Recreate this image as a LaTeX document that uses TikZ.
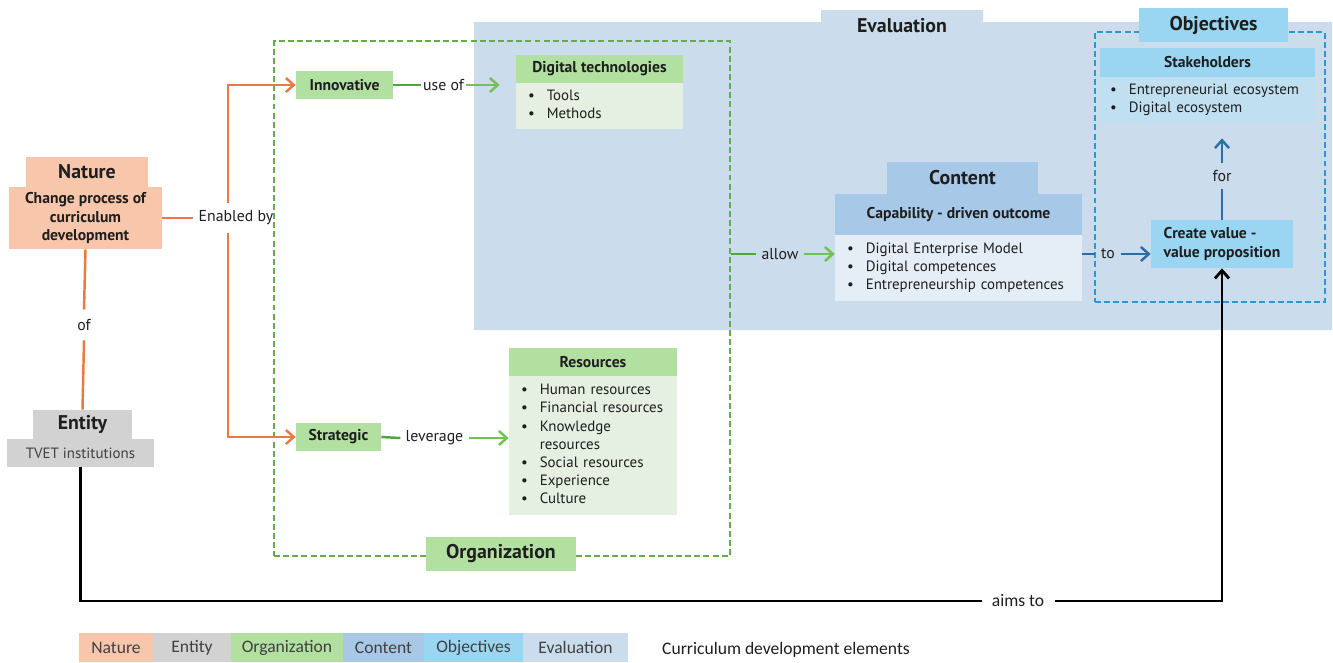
\documentclass[tikz,border=0pt]{standalone}
\usepackage{fontspec}
\setmainfont{PT Sans}
\newfontfamily\calib{Carlito}
\usetikzlibrary{arrows.meta}

\definecolor{natfill}{HTML}{F8C6AB}
\definecolor{entfill}{HTML}{D2D2D2}
\definecolor{orgfill}{HTML}{B2E0A0}
\definecolor{orgbody}{HTML}{E5EFE2}
\definecolor{confill}{HTML}{A8C8E8}
\definecolor{conbody}{HTML}{E5EDF6}
\definecolor{objfill}{HTML}{9AD6F2}
\definecolor{objbody}{HTML}{C0E0F2}
\definecolor{evalfill}{HTML}{CBDDED}
\definecolor{orangeln}{HTML}{E97B42}
\definecolor{greendk}{HTML}{4FA63A}
\definecolor{greenlt}{HTML}{72C154}
\definecolor{greendash}{HTML}{65AE45}
\definecolor{blueln}{HTML}{2D6DA3}
\definecolor{bluedash}{HTML}{2B97D3}
\definecolor{ink}{HTML}{1E1E1E}

\newcommand\ftitle{\fontsize{11.3}{13}\selectfont\bfseries}
\newcommand\fhead{\fontsize{8.9}{10.4}\selectfont\bfseries}
\newcommand\fbody{\fontsize{8.5}{10.3}\selectfont}
\newcommand\flab{\fontsize{9}{10.5}\selectfont}
\newcommand\fleg{\calib\fontsize{10}{12}\selectfont}
\newcommand\bulletlist[1]{\begin{tabular}{@{}l@{\hspace{0.24cm}}l@{}}#1\end{tabular}}

\begin{document}
\begin{tikzpicture}[x=0.02cm,y=-0.02cm,
  fillbox/.style={inner sep=0, align=center, text=ink},
  listbox/.style={inner xsep=0.24cm, inner ysep=0, align=left, text=ink, font=\fbody},
  lab/.style={inner xsep=0.1cm, inner ysep=0, text=ink, font=\flab},
  gdash/.style={draw=greendash, line width=0.9pt, dash pattern=on 3.4pt off 1.8pt, inner sep=0},
  bdash/.style={draw=bluedash, line width=0.9pt, dash pattern=on 3.4pt off 1.8pt, inner sep=0},
  tip/.style={-{Straight Barb[length=4.5pt,width=8pt]}},
  oline/.style={draw=orangeln, line width=1.4pt},
  gdk/.style={draw=greendk, line width=1.4pt},
  glt/.style={draw=greenlt, line width=1.4pt},
  bline/.style={draw=blueln, line width=1.4pt},
  kline/.style={draw=black, line width=1.6pt},
  legbox/.style={inner sep=0, minimum height=0.58cm, text=ink!85, font=\fleg}]
\useasboundingbox (0,0) rectangle (1333,663);

% Evaluation area with its tab
\fill[evalfill] (474,22) -- (821,22) -- (821,10) -- (983,10) -- (983,22)
  -- (1332,22) -- (1332,330) -- (474,330) -- cycle;
\node[fillbox, font=\ftitle] (eval) at (902,26) {Evaluation};

% dashed frames
\node[gdash, minimum width=9.12cm, minimum height=10.3cm] (orgframe) at (502,298.5) {};
\node[bdash, minimum width=4.6cm, minimum height=5.4cm] (objframe) at (1210,167) {};

% Nature
\node[fillbox, fill=natfill, minimum width=2.44cm, minimum height=0.6cm, font=\ftitle] (natt) at (87,172) {Nature};
\node[fillbox, fill=natfill, minimum width=3.06cm, minimum height=1.24cm, font=\fhead] (natb) at (85.5,218)
  {Change process of\\curriculum\\development};

% Entity
\node[fillbox, fill=entfill, minimum width=1.98cm, minimum height=0.58cm, font=\ftitle] (entt) at (82.5,424.5) {Entity};
\node[fillbox, fill=entfill, minimum width=2.94cm, minimum height=0.56cm, font=\fbody, text=ink!85] (entb) at (80.5,453) {TVET institutions};

% Organization
\node[fillbox, fill=orgfill, minimum width=1.94cm, minimum height=0.56cm, font=\fhead] (innov) at (344.5,85) {Innovative};
\node[fillbox, fill=orgfill, minimum width=1.7cm, minimum height=0.56cm, font=\fhead] (strat) at (338.5,437) {Strategic};
\node[fillbox, fill=orgfill, minimum width=3.34cm, minimum height=0.56cm, font=\fhead] (digh) at (599.5,69) {Digital technologies};
\node[listbox, fill=orgbody, text width=2.86cm, minimum height=0.92cm] (digb) at (599.5,106)
  {\bulletlist{\textbullet & Tools\\ \textbullet & Methods}};
\node[fillbox, fill=orgfill, minimum width=3.36cm, minimum height=0.56cm, font=\fhead] (resh) at (593,362) {Resources};
\node[listbox, fill=orgbody, text width=2.88cm, minimum height=2.78cm] (resb) at (593,445.5)
  {\bulletlist{\textbullet & Human resources\\ \textbullet & Financial resources\\
   \textbullet & Knowledge\\ & resources\\ \textbullet & Social resources\\
   \textbullet & Experience\\ \textbullet & Culture}};
\node[fillbox, fill=orgfill, minimum width=3.0cm, minimum height=0.68cm, font=\ftitle] (orglab) at (501,554) {Organization};

% Content
\node[fillbox, fill=confill, minimum width=3.02cm, minimum height=0.64cm, font=\ftitle] (cont) at (962.5,178) {Content};
\node[fillbox, fill=confill, minimum width=4.94cm, minimum height=0.82cm, font=\fhead] (conh) at (958.5,214.5) {Capability - driven outcome};
\node[listbox, fill=conbody, text width=4.46cm, minimum height=1.32cm] (conb) at (958.5,268)
  {\bulletlist{\textbullet & Digital Enterprise Model\\ \textbullet & Digital competences\\
   \textbullet & Entrepreneurship competences}};

% Objectives
\node[fillbox, fill=objfill, minimum width=2.98cm, minimum height=0.68cm, font=\ftitle] (objt) at (1213.5,25) {Objectives};
\node[fillbox, fill=objfill, minimum width=4.3cm, minimum height=0.58cm, font=\fhead] (stkh) at (1207.5,62.5) {Stakeholders};
\node[listbox, inner xsep=0.2cm, fill=objbody, text width=3.9cm, minimum height=0.92cm] (stkb) at (1207.5,100)
  {\bulletlist{\textbullet & Entrepreneurial ecosystem\\ \textbullet & Digital ecosystem}};
\node[fillbox, fill=objfill, minimum width=2.84cm, minimum height=0.96cm, font=\fhead, align=left] (create) at (1222,244)
  {Create value -\\value proposition};

% connector labels
\node[lab, minimum height=0.58cm] (enab) at (236,218) {Enabled by};
\node[lab, minimum height=0.6cm] (of) at (84,325) {of};
\node[lab, inner xsep=0.03cm] (useof) at (443.5,85) {use of};
\node[lab] (lev) at (434.5,438) {leverage};
\node[lab] (allow) at (780,254) {allow};
\node[lab, inner xsep=0.12cm] (to) at (1108,254) {to};
\node[lab, minimum height=0.52cm] (for) at (1222,176) {for};
\node[lab, font=\fleg, inner xsep=0.2cm] (aims) at (1018,601) {aims to};
\coordinate (jn) at (228,218);

% connectors
\draw[oline] (natb.east) -- (enab.west);
\draw[oline, tip] (enab.north -| jn) |- (innov.west);
\draw[oline, tip] (enab.south -| jn) |- (strat.west);
\draw[oline] (natb.south) -- (of.north);
\draw[oline] (of.south) -- (entt.north);
\draw[gdk] (innov.east) -- (useof.west);
\draw[glt, tip, shorten >=0.32cm] (useof.east) -- (useof.east -| digb.west);
\draw[gdk] (strat.east) -- (lev.west);
\draw[glt, tip] (lev.east) -- (lev.east -| resb.west);
\draw[gdk] (allow.west -| orgframe.east) -- (allow.west);
\draw[glt, tip] (allow.east) -- (allow.east -| conb.west);
\draw[bline] (to.west -| conb.east) -- (to.west);
\draw[bline, tip] (to.east) -- (to.east -| create.west);
\draw[bline] (create.north) -- (for.south);
\draw[bline, tip, shorten >=0.3cm] (for.north) -- (for.north |- stkb.south);
\draw[kline] (entb.south) |- (aims.west);
\draw[kline, tip] (aims.east) -| (create.south);

% legend
\node[legbox, fill=natfill, minimum width=1.48cm] (lnat) at (116,647.5) {Nature};
\node[legbox, fill=entfill, minimum width=1.56cm] (lent) at (192,647.5) {Entity};
\node[legbox, fill=orgfill, minimum width=2.24cm] (lorg) at (287,647.5) {Organization};
\node[legbox, fill=confill, minimum width=1.62cm] (lcon) at (383.5,647.5) {Content};
\node[legbox, fill=objfill, minimum width=1.98cm] (lobj) at (473.5,647.5) {Objectives};
\node[legbox, fill=evalfill, minimum width=2.1cm] (leval) at (575.5,647.5) {Evaluation};
\node[inner sep=0, text=ink, font=\fleg] (lcap) at (786,650) {Curriculum development elements};
\end{tikzpicture}
\end{document}
